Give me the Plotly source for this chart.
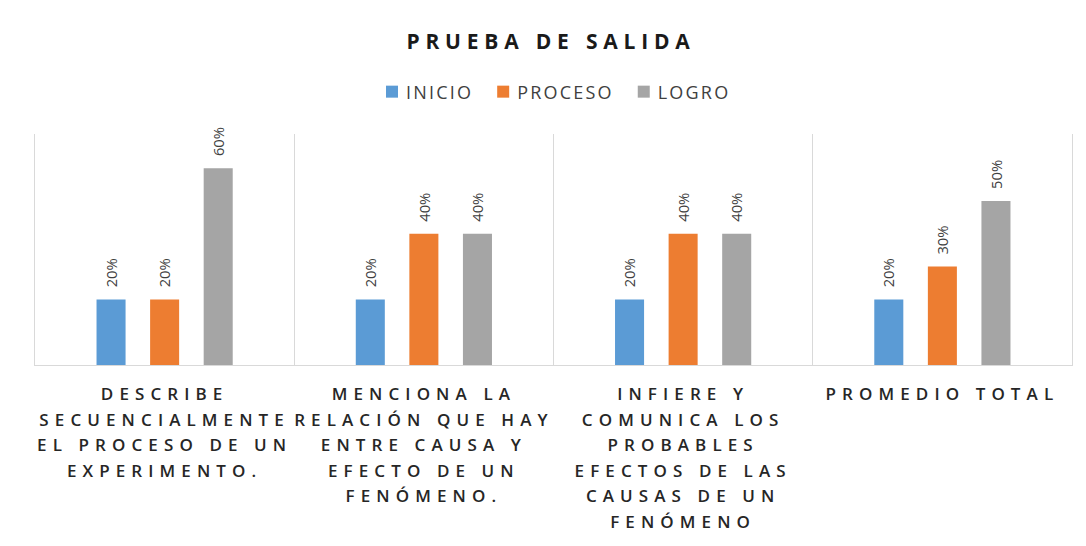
import plotly.graph_objects as go

categories = [
    "DESCRIBE<br>SECUENCIALMENTE<br>EL PROCESO DE UN<br>EXPERIMENTO.",
    "MENCIONA LA<br>RELACIÓN QUE HAY<br>ENTRE CAUSA Y<br>EFECTO DE UN<br>FENÓMENO.",
    "INFIERE Y<br>COMUNICA LOS<br>PROBABLES<br>EFECTOS DE LAS<br>CAUSAS DE UN<br>FENÓMENO",
    "PROMEDIO TOTAL",
]
series_names = ["INICIO", "PROCESO", "LOGRO"]
inicio = [0.20, 0.20, 0.20, 0.20]
proceso = [0.20, 0.40, 0.40, 0.30]
logro = [0.60, 0.40, 0.40, 0.50]
colors = ["#5B9BD5", "#ED7D31", "#A5A5A5"]

fig = go.Figure()
for name, vals, col in zip(series_names, [inicio, proceso, logro], colors):
    fig.add_trace(go.Bar(
        x=categories, y=vals, name=name,
        marker=dict(color=col, line=dict(width=0)),
        texttemplate="%{y:.0%}", textposition="outside", textangle=-90,
        textfont=dict(family="Open Sans", size=17, color="#404040"),
        cliponaxis=False,
    ))

fig.update_layout(
    width=1086, height=546,
    margin=dict(l=35, r=14, t=134, b=181),
    paper_bgcolor="white", plot_bgcolor="white",
    barmode="group", bargap=0.38, bargroupgap=0.458,
    title=dict(text="<b>PRUEBA DE SALIDA</b>", x=551/1086, xanchor="center",
               y=1 - 42/546, yanchor="middle",
               font=dict(family="Open Sans", size=21, color="#1a1a1a")),
    legend=dict(orientation="h", x=0.504, xanchor="center", y=1.182, yanchor="middle",
                font=dict(family="Open Sans", size=18, color="#404040"),
                bgcolor="rgba(0,0,0,0)", itemclick=False),
    showlegend=True,
)
fig.update_xaxes(
    type="category", tickson="boundaries", showgrid=True, gridcolor="#D9D9D9", gridwidth=1,
    showline=True, linecolor="#D9D9D9", linewidth=1, ticks="",
    tickangle=0, ticklabelstandoff=14,
    tickfont=dict(family="Open Sans", size=17, color="#262626", weight=600),
)
fig.update_yaxes(
    range=[0, 0.704], showticklabels=False, showgrid=False, zeroline=False,
    showline=True, mirror=True, linecolor="#D9D9D9", linewidth=1, ticks="",
)

post = r"""
document.body.style.margin = '0';
var gd = document.getElementById('{plot_id}');
gd.querySelectorAll('.xtick text').forEach(function(t){ t.style.letterSpacing='6.1px'; });
gd.querySelectorAll('.xtick text tspan.line').forEach(function(t){
  var dy = parseFloat(t.getAttribute('dy'));
  if(!isNaN(dy)) t.setAttribute('dy', (dy*1.5/1.3)+'em');
});
gd.querySelectorAll('.gtitle').forEach(function(t){ t.style.letterSpacing='5.8px'; });
gd.querySelectorAll('.bartext').forEach(function(t){
  var tr = t.getAttribute('transform') || '';
  t.setAttribute('transform', 'translate(0,-9) ' + tr);
});
gd.querySelectorAll('.legend .scrollbox').forEach(function(e){ e.removeAttribute('clip-path'); });
var re = /translate\(\s*([-\d.e]+)[ ,]+([-\d.e]+)\s*\)/;
var traces = Array.prototype.slice.call(gd.querySelectorAll('.legend .traces'));
var pos = 0;
traces.forEach(function(g){
  var t = g.querySelector('.legendtext');
  t.style.letterSpacing = '2.2px';
  t.setAttribute('x', 34);
  var m = re.exec(g.getAttribute('transform') || '');
  var y = m ? m[2] : 0;
  g.setAttribute('transform', 'translate(' + pos + ',' + y + ')');
  pos += t.getComputedTextLength() + 44;
});
if (traces.length) {
  var sym = traces[0].querySelector('.legendpoints path');
  var left = sym.getBoundingClientRect().left;
  var shift = 386 - left;
  traces.forEach(function(g){
    var m = re.exec(g.getAttribute('transform'));
    g.setAttribute('transform', 'translate(' + (parseFloat(m[1]) + shift) + ',' + m[2] + ')');
  });
}
"""

fig.write_html("out.html", post_script=post, config={"displayModeBar": False})
